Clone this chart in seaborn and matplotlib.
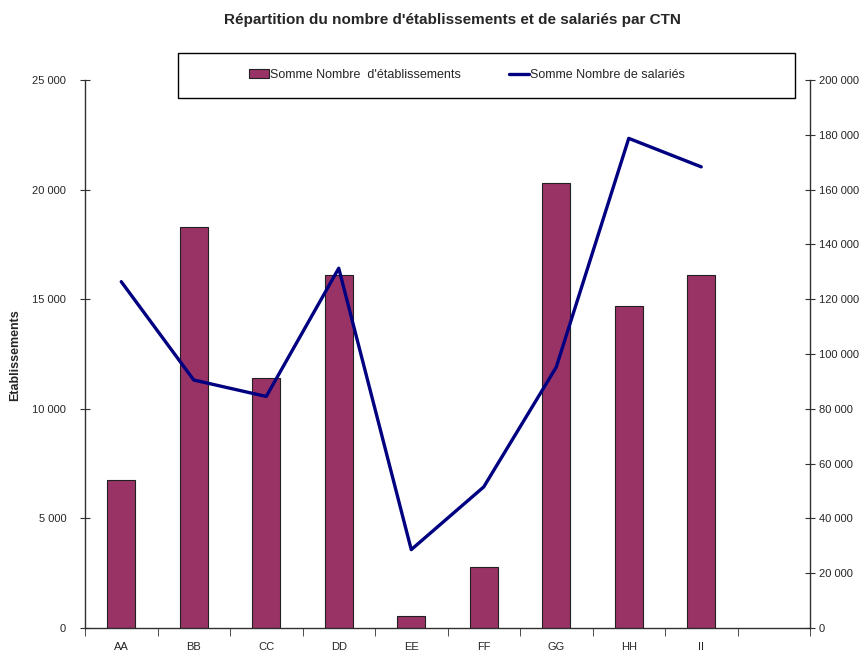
import matplotlib
matplotlib.use("Agg")
import matplotlib.pyplot as plt
import matplotlib.ticker as mticker
from matplotlib.patches import Patch, Rectangle
from matplotlib.lines import Line2D
import numpy as np
import pandas as pd
import seaborn as sns

categories = ["AA", "BB", "CC", "DD", "EE", "FF", "GG", "HH", "II"]
etablissements = [6750, 18300, 11400, 16100, 550, 2800, 20300, 14700, 16100]
salaries = [126400, 90500, 84500, 131300, 28600, 51500, 95200, 178700, 168300]

title = "Répartition du nombre d'établissements et de salariés par CTN"
bar_label = "Somme Nombre  d'établissements"
line_label = "Somme Nombre de salariés"
ylabel = "Etablissements"

sns.set_style("white")
plt.rcParams["font.family"] = ["Liberation Sans Narrow", "Liberation Sans", "DejaVu Sans"]

bar_color = "#993366"
line_color = "#000080"

df = pd.DataFrame({"cat": categories, "etab": etablissements, "sal": salaries})

fig = plt.figure(figsize=(8.59, 6.55), dpi=100)
ax = fig.add_axes([85 / 859, 1 - 628 / 655, (810 - 85) / 859, (628 - 80) / 655])

sns.barplot(data=df, x="cat", y="etab", color=bar_color, width=0.38,
            edgecolor="#202020", linewidth=0.8, saturation=1, ax=ax)
ax.set_xlim(-0.5, len(categories) + 0.5)
ax.set_ylim(0, 25000)
ax.yaxis.set_major_locator(mticker.MultipleLocator(5000))
fmt = mticker.FuncFormatter(lambda v, p: f"{int(v):,}".replace(",", " "))
ax.yaxis.set_major_formatter(fmt)

ax2 = ax.twinx()
sns.lineplot(data=df, x="cat", y="sal", color=line_color, linewidth=2.4,
             sort=False, ax=ax2, legend=False)
ax2.set_ylim(0, 200000)
ax2.yaxis.set_major_locator(mticker.MultipleLocator(20000))
ax2.yaxis.set_major_formatter(fmt)
ax2.set_xlim(-0.5, len(categories) + 0.5)

for a in (ax, ax2):
    a.set_xlabel("")
    a.set_ylabel("")
    a.spines["top"].set_visible(False)
    for s in a.spines.values():
        s.set_color("#303030")
        s.set_linewidth(1.0)
ax.spines["right"].set_visible(False)
ax2.spines["left"].set_visible(False)
ax2.spines["bottom"].set_visible(False)

ax.set_xticks(range(len(categories)))
ax.set_xticklabels(categories)
ax.set_xticks(np.arange(-0.5, len(categories) + 1, 1.0), minor=True)
ax.tick_params(axis="x", which="major", length=0, pad=10, labelsize=8)
ax.tick_params(axis="x", which="minor", length=6, direction="out", color="#303030", bottom=True)
ax.tick_params(axis="y", length=7, direction="inout", color="#303030", labelsize=8, pad=10, left=True)
ax2.tick_params(axis="y", length=7, direction="inout", color="#303030", labelsize=8, pad=3, right=True)

fig.text(15 / 859, 1 - 355 / 655, ylabel, rotation=90, fontsize=9, fontweight="bold",
         ha="center", va="center")
fig.text(452 / 859, 1 - 20 / 655, title, fontsize=11, fontweight="bold",
         ha="center", va="center")

fig.add_artist(Rectangle((178 / 859, 1 - 98 / 655), 617 / 859, 45 / 655,
                         transform=fig.transFigure, fill=False,
                         edgecolor="black", linewidth=1.0))
handles = [Patch(facecolor=bar_color, edgecolor="#202020", linewidth=0.8),
           Line2D([0], [0], color=line_color, linewidth=2.4)]
leg = fig.legend(handles, [bar_label, line_label], ncol=2,
                 loc="center", bbox_to_anchor=(467 / 859, 1 - 75 / 655),
                 frameon=False, fontsize=9, handlelength=1.6,
                 handletextpad=0.1, columnspacing=3.8, borderpad=0)

fig.savefig("out.png", dpi=100)
